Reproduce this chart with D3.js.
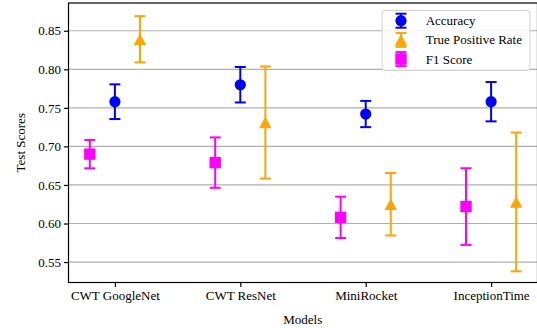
<!DOCTYPE html>
<html>
<head>
<meta charset="utf-8">
<script src="https://cdn.jsdelivr.net/npm/d3@7"></script>
<style>
  body { margin: 0; background: #fff; }
  text { font-family: "Liberation Serif", "Times New Roman", serif; fill: #000; }
</style>
</head>
<body>
<script>
// Data
const models = ["CWT GoogleNet", "CWT ResNet", "MiniRocket", "InceptionTime"];
const accuracy = [0.758, 0.780, 0.742, 0.758];
const accuracyStd = [0.0225, 0.023, 0.017, 0.0255];
const tpr = [0.839, 0.731, 0.625, 0.628];
const tprStd = [0.030, 0.0727, 0.0405, 0.090];
const f1 = [0.690, 0.679, 0.608, 0.622];
const f1Std = [0.0184, 0.0327, 0.0268, 0.0497];
const yTicks = [0.55, 0.60, 0.65, 0.70, 0.75, 0.80, 0.85];

const width = 537;
const height = 328;
const margin = { top: 3, right: 0, bottom: 45.5, left: 68.5 };

const series = [
  { name: "Accuracy", values: accuracy, std: accuracyStd, color: "#0000ff", shape: "circle", offset: 0 },
  { name: "True Positive Rate", values: tpr, std: tprStd, color: "#ffa500", shape: "triangle", offset: 0.2 },
  { name: "F1 Score", values: f1, std: f1Std, color: "#ff00ff", shape: "square", offset: -0.2 },
];

// Scales
const xScale = d3.scaleLinear().domain([-0.37, 3.37]).range([margin.left, width - margin.right + 0.5]);
const yScale = d3.scaleLinear().domain([0.5235, 0.886]).range([height - margin.bottom, margin.top]);

const svg = d3.select("body")
  .append("svg")
  .attr("width", width)
  .attr("height", height)
  .attr("viewBox", [0, 0, width, height]);

// gridlines
svg.append("g")
  .selectAll("line")
  .data(yTicks)
  .join("line")
  .attr("x1", margin.left)
  .attr("x2", width)
  .attr("y1", d => yScale(d))
  .attr("y2", d => yScale(d))
  .attr("stroke", "#b0b0b0")
  .attr("stroke-width", 1.2);

// axes
const xAxis = d3.axisBottom(xScale)
  .tickValues(d3.range(models.length))
  .tickFormat(i => models[i])
  .tickSize(4.5)
  .tickSizeOuter(0)
  .tickPadding(4);
const yAxis = d3.axisLeft(yScale)
  .tickValues(yTicks)
  .tickFormat(d3.format(".2f"))
  .tickSize(4.5)
  .tickSizeOuter(0)
  .tickPadding(3);

const gx = svg.append("g")
  .attr("transform", `translate(0,${height - margin.bottom})`)
  .call(xAxis);
const gy = svg.append("g")
  .attr("transform", `translate(${margin.left},0)`)
  .call(yAxis);
[gx, gy].forEach(g => {
  g.select(".domain").remove();
  g.selectAll(".tick line").attr("stroke", "#000").attr("stroke-width", 1.2);
  g.selectAll(".tick text").style("font-size", "13px").style("font-family", '"Liberation Serif", serif');
});

// frame
svg.append("rect")
  .attr("x", margin.left)
  .attr("y", margin.top)
  .attr("width", width - margin.left - margin.right + 0.5)
  .attr("height", height - margin.top - margin.bottom)
  .attr("fill", "none")
  .attr("stroke", "#000")
  .attr("stroke-width", 1.2);

// axis labels
svg.append("text")
  .attr("x", (margin.left + width) / 2)
  .attr("y", 324)
  .attr("text-anchor", "middle")
  .style("font-size", "13px")
  .text("Models");
svg.append("text")
  .attr("transform", `translate(20,${(margin.top + height - margin.bottom) / 2}) rotate(-90)`)
  .attr("text-anchor", "middle")
  .attr("dy", "0.35em")
  .style("font-size", "13px")
  .text("Test Scores");

// marker path helper
function markerPath(shape) {
  if (shape === "circle") return d3.symbol(d3.symbolCircle, Math.PI * 5.6 * 5.6)();
  if (shape === "square") return "M-5.7,-5.7H5.7V5.7H-5.7Z";
  return "M0,-5.8L6.2,5.8H-6.2Z";
}

function drawErrorbar(g, cx, yTop, yBot, color) {
  g.append("line")
    .attr("x1", cx).attr("x2", cx)
    .attr("y1", yTop).attr("y2", yBot)
    .attr("stroke", color).attr("stroke-width", 2);
  [yTop, yBot].forEach(y => {
    g.append("line")
      .attr("x1", cx - 5.5).attr("x2", cx + 5.5)
      .attr("y1", y).attr("y2", y)
      .attr("stroke", color).attr("stroke-width", 2);
  });
}

// series
const marks = svg.append("g");
series.forEach(s => {
  const g = marks.append("g");
  s.values.forEach((v, i) => {
    const cx = xScale(i + s.offset);
    drawErrorbar(g, cx, yScale(v + s.std[i]), yScale(v - s.std[i]), s.color);
    g.append("path")
      .attr("d", markerPath(s.shape))
      .attr("transform", `translate(${cx},${yScale(v)})`)
      .attr("fill", s.color);
  });
});

// legend
const legend = svg.append("g");
legend.append("rect")
  .attr("x", 382)
  .attr("y", 10.5)
  .attr("width", 148)
  .attr("height", 60)
  .attr("rx", 3)
  .attr("fill", "#fff")
  .attr("fill-opacity", 0.85)
  .attr("stroke", "#d0d0d0")
  .attr("stroke-width", 1);
series.forEach((s, i) => {
  const ly = 20.7 + i * 19.2;
  drawErrorbar(legend, 401, ly - 7, ly + 7, s.color);
  legend.append("path")
    .attr("d", markerPath(s.shape))
    .attr("transform", `translate(401,${ly})`)
    .attr("fill", s.color);
  legend.append("text")
    .attr("x", 425.7)
    .attr("y", ly)
    .attr("dy", "0.35em")
    .style("font-size", "13px")
    .text(s.name);
});
</script>
</body>
</html>
